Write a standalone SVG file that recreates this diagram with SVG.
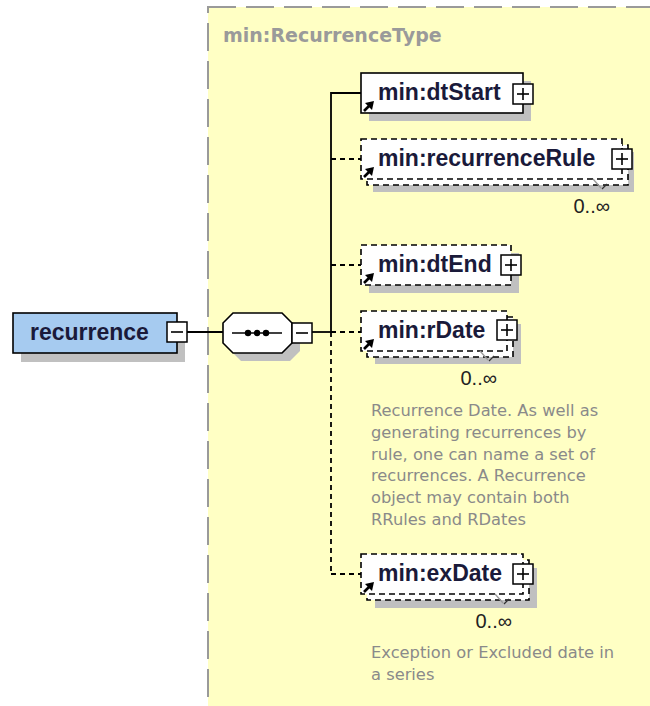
<svg xmlns="http://www.w3.org/2000/svg" xmlns:xlink="http://www.w3.org/1999/xlink" width="650" height="706" viewBox="0 0 650 706">
<style>
.shadow{fill:#c0c0c0;stroke:none}
.box{fill:#ffffff;stroke:#000;stroke-width:1.6}
.opt{fill:#ffffff;stroke:#000;stroke-width:1.6;stroke-dasharray:6 4}
.lbl{font-family:"Liberation Sans",Arial,sans-serif;font-weight:bold;font-size:23px;fill:#1a1a3a}
.mult{font-family:"Liberation Sans",Arial,sans-serif;font-size:20px;fill:#222;text-anchor:end}
.doc{font-family:"DejaVu Sans",Verdana,sans-serif;font-size:16.3px;fill:#8a8a8a}
.ln{stroke:#000;stroke-width:1.8;fill:none}
.dl{stroke:#000;stroke-width:1.8;fill:none;stroke-dasharray:5 4}
</style>
<defs>
<g id="plus"><rect x="0" y="0" width="20" height="20" fill="#fff" stroke="#000" stroke-width="1.5"/><line x1="4" y1="10" x2="16" y2="10" stroke="#000" stroke-width="1.6"/><line x1="10" y1="4" x2="10" y2="16" stroke="#000" stroke-width="1.6"/></g>
<g id="minus"><rect x="0" y="0" width="20" height="20" fill="#fff" stroke="#000" stroke-width="1.5"/><line x1="4" y1="10" x2="16" y2="10" stroke="#000" stroke-width="1.6"/></g>
<g id="arr"><line x1="3" y1="-2" x2="8" y2="-7" stroke="#000" stroke-width="2.6"/><polygon points="13,-12 4,-10 11,-3" fill="#000"/></g>
<g id="tick"><polyline points="-17,0 -9,9" stroke="#9a9a9a" stroke-width="1.3" fill="none"/><polyline points="-8,10 -3,5" stroke="#333" stroke-width="1.3" fill="none"/></g>
</defs>

<g id="complexType">
<rect x="208" y="7" width="470" height="730" fill="#ffffc4" stroke="#9a9a9a" stroke-width="2" stroke-dasharray="28 10"/>
<text x="223" y="42" style="font-family:'DejaVu Sans',Verdana,sans-serif;font-weight:bold;font-size:19px;fill:#9a9a9a">min:RecurrenceType</text>
</g>

<g id="connectors">
<line class="ln" x1="187" y1="332" x2="223" y2="332"/>
<line class="ln" x1="311" y1="332" x2="331" y2="332"/>
<polyline class="ln" points="361,93 331,93 331,332"/>
<line class="dl" x1="331" y1="332" x2="331" y2="574"/>
<line class="dl" x1="331" y1="159" x2="361" y2="159"/>
<line class="dl" x1="331" y1="265" x2="361" y2="265"/>
<line class="dl" x1="331" y1="332" x2="361" y2="332"/>
<line class="dl" x1="331" y1="574" x2="361" y2="574"/>
</g>

<g id="recurrence">
<rect class="shadow" x="21" y="321" width="164" height="41"/>
<rect x="13" y="313" width="164" height="40" fill="#a6cbf0" stroke="#000" stroke-width="1.6"/>
<text class="lbl" x="30" y="340">recurrence</text>
<use xlink:href="#minus" x="167" y="322"/>
</g>

<g id="sequence">
<polygon class="shadow" points="241,321 290,321 300,331 300,351 290,361 241,361 231,351 231,331"/>
<polygon points="233,313 282,313 292,323 292,343 282,353 233,353 223,343 223,323" fill="#fff" stroke="#000" stroke-width="1.6"/>
<line x1="232" y1="333" x2="282" y2="333" stroke="#000" stroke-width="1.6"/>
<circle cx="248" cy="333" r="3.2"/>
<circle cx="257" cy="333" r="3.2"/>
<circle cx="266" cy="333" r="3.2"/>
<use xlink:href="#minus" x="292" y="323"/>
</g>

<g id="dtStart">
<rect class="shadow" x="369" y="81" width="162" height="40"/>
<rect class="box" x="361" y="73" width="162" height="40"/>
<text class="lbl" x="378" y="100">min:dtStart</text>
<use xlink:href="#arr" x="361" y="113"/>
<use xlink:href="#plus" x="513" y="84"/>
</g>

<g id="recurrenceRule">
<rect class="shadow" x="373" y="152" width="261" height="40"/>
<rect class="opt" x="367" y="145" width="261" height="40"/>
<rect class="opt" x="361" y="139" width="261" height="40"/>
<text class="lbl" x="378" y="166">min:recurrenceRule</text>
<use xlink:href="#arr" x="361" y="179"/>
<use xlink:href="#plus" x="612" y="149"/>
<use xlink:href="#tick" x="610" y="179"/>
<text class="mult" x="610" y="213">0..∞</text>
</g>

<g id="dtEnd">
<rect class="shadow" x="369" y="253" width="150" height="40"/>
<rect class="opt" x="361" y="245" width="150" height="40"/>
<text class="lbl" x="378" y="272">min:dtEnd</text>
<use xlink:href="#arr" x="361" y="285"/>
<use xlink:href="#plus" x="501" y="255"/>
</g>

<g id="rDate">
<rect class="shadow" x="375" y="324" width="146" height="40"/>
<rect class="opt" x="367" y="317" width="146" height="40"/>
<rect class="opt" x="361" y="311" width="146" height="40"/>
<text class="lbl" x="378" y="338">min:rDate</text>
<use xlink:href="#arr" x="361" y="351"/>
<use xlink:href="#plus" x="497" y="320"/>
<use xlink:href="#tick" x="497" y="351"/>
<text class="mult" x="497" y="385">0..∞</text>
<text class="doc" x="371" y="416">Recurrence Date. As well as</text>
<text class="doc" x="371" y="437.8">generating recurrences by</text>
<text class="doc" x="371" y="459.6">rule, one can name a set of</text>
<text class="doc" x="371" y="481.4">recurrences. A Recurrence</text>
<text class="doc" x="371" y="503.2">object may contain both</text>
<text class="doc" x="371" y="525">RRules and RDates</text>
</g>

<g id="exDate">
<rect class="shadow" x="375" y="568" width="162" height="40"/>
<rect class="opt" x="367" y="560" width="162" height="40"/>
<rect class="opt" x="361" y="554" width="162" height="40"/>
<text class="lbl" x="378" y="581">min:exDate</text>
<use xlink:href="#arr" x="361" y="594"/>
<use xlink:href="#plus" x="513" y="564"/>
<use xlink:href="#tick" x="512" y="594"/>
<text class="mult" x="512" y="628">0..∞</text>
<text class="doc" x="371" y="658">Exception or Excluded date in</text>
<text class="doc" x="371" y="680">a series</text>
</g>
</svg>
